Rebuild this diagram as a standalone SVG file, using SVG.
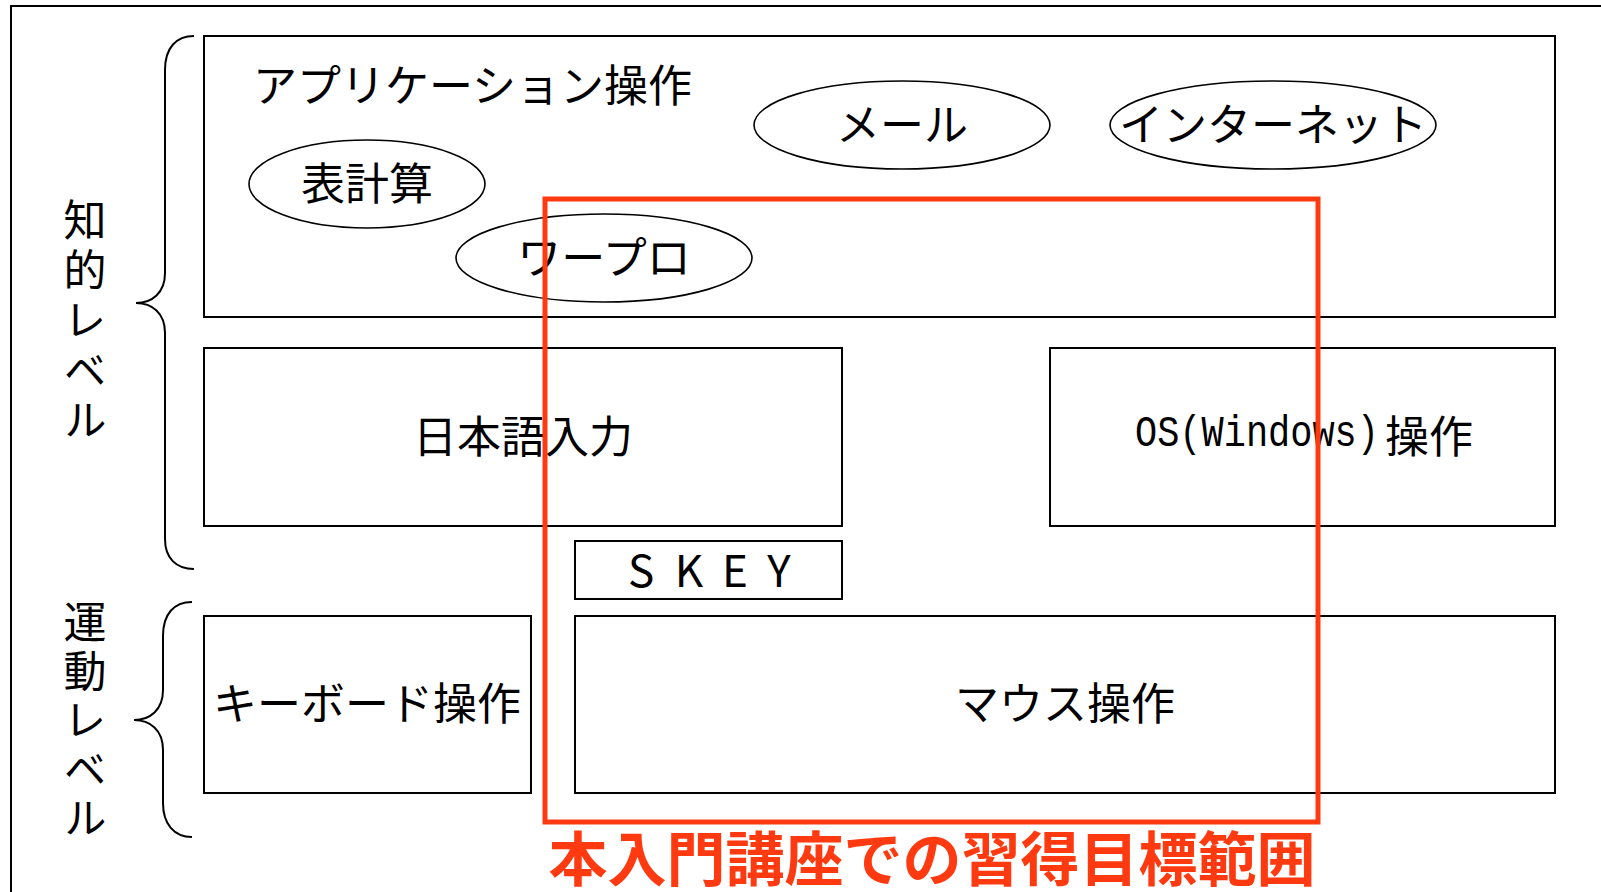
<svg xmlns="http://www.w3.org/2000/svg" width="1601" height="892" viewBox="0 0 1601 892">
<style>
.box{fill:#fff;stroke:#000;stroke-width:2}
.ell{fill:#fff;stroke:#000;stroke-width:1.6}
.t{font-family:"Noto Sans CJK JP","Noto Sans",sans-serif;font-size:44px;fill:#000;dominant-baseline:central;text-anchor:middle}
.v{font-family:"Noto Sans CJK JP","Noto Sans",sans-serif;font-size:43px;fill:#000;writing-mode:vertical-rl;text-orientation:upright}
.brace{fill:none;stroke:#000;stroke-width:2}
</style>
<rect width="1601" height="892" fill="#fff"/>
<path d="M11,892 V6 H1601" fill="none" stroke="#000" stroke-width="2"/>

<g id="brace-chiteki"><path class="brace" d="M194,36 C176,36 165,48 165,70 V273 C165,293 152,303 136,303 C152,303 165,313 165,333 V539 C165,558 176,569 194,569"/></g>
<g id="brace-undo"><path class="brace" d="M192,602 C174,602 163,614 163,636 V690 C163,710 150,720 134,720 C150,720 163,730 163,750 V803 C163,824 174,837 192,837"/></g>

<g id="label-chiteki"><text class="v" x="85" y="198" letter-spacing="7">知的レベル</text></g>
<g id="label-undo"><text class="v" x="85" y="600" letter-spacing="6">運動レベル</text></g>

<g id="app"><rect class="box" x="204" y="36" width="1351" height="281"/><text class="t" x="253" y="83" style="text-anchor:start">アプリケーション操作</text></g>
<g id="hyokeisan"><ellipse class="ell" cx="367" cy="184" rx="118" ry="44"/><text class="t" x="367" y="181">表計算</text></g>
<g id="wapuro"><ellipse class="ell" cx="604" cy="258" rx="148" ry="44"/><text class="t" x="604" y="255">ワープロ</text></g>
<g id="mail"><ellipse class="ell" cx="902" cy="125" rx="148" ry="44"/><text class="t" x="902" y="122">メール</text></g>
<g id="internet"><ellipse class="ell" cx="1273" cy="125" rx="163" ry="44"/><text class="t" x="1273" y="122">インターネット</text></g>

<g id="nihongo"><rect class="box" x="204" y="348" width="638" height="178"/><text class="t" x="523" y="434">日本語入力</text></g>
<g id="os"><rect class="box" x="1050" y="348" width="505" height="178"/><text class="t" transform="translate(1135,434) scale(0.84,1)" x="0" y="0" style="text-anchor:start;font-family:'Liberation Mono',monospace">OS(Windows)</text><text class="t" x="1385" y="434" style="text-anchor:start">操作</text></g>
<g id="skey"><rect class="box" x="575" y="541" width="267" height="58"/><text class="t" y="568"><tspan x="641">S</tspan><tspan x="689">K</tspan><tspan x="735">E</tspan><tspan x="779">Y</tspan></text></g>
<g id="keyboard"><rect class="box" x="204" y="616" width="327" height="177"/><text class="t" x="367" y="701">キーボード操作</text></g>
<g id="mouse"><rect class="box" x="575" y="616" width="980" height="177"/><text class="t" x="1065" y="701">マウス操作</text></g>

<g id="connectors"></g>

<g id="target"><rect x="545" y="199" width="773" height="623" fill="none" stroke="#ff3a10" stroke-width="5"/><text class="t" x="932" y="855" style="font-size:59px;font-weight:bold;fill:#ff3a10">本入門講座での習得目標範囲</text></g>
</svg>
